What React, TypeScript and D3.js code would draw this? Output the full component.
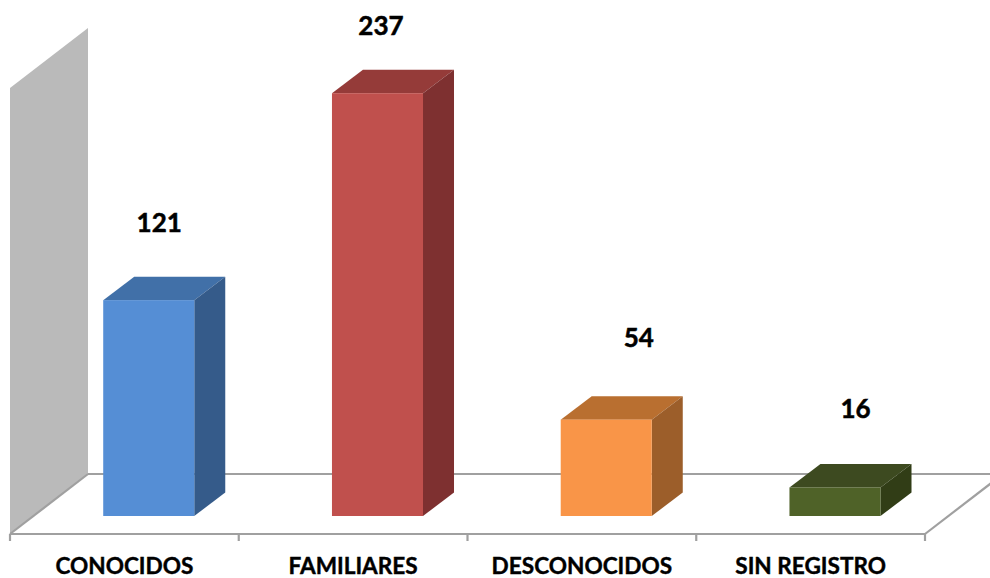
import * as d3 from "d3";

const categories = ["CONOCIDOS", "FAMILIARES", "DESCONOCIDOS", "SIN REGISTRO"];
const values = [121, 237, 54, 16];
const axisMax = 250;

const frontColors = ["#558ed5", "#c0504d", "#f99548", "#4f6228"];
const topColors = ["#4170a8", "#953b39", "#b96f30", "#3d4a20"];
const sideColors = ["#355b8a", "#7e3030", "#9c5e2a", "#313d16"];

// value labels were placed by hand in the original, so each has its own nudge
const labelDx = [56, 49, 78, 66];
const labelDy = [-68, -58, -73, -69];

const width = 990;
const height = 578;
const plotLeft = 10;
const plotRight = 925;
const plotBottom = 534;
const plotTop = 88;
const wallDepth = { x: 78, y: -60 };
const barDepth = { x: 31, y: -23.5 };
const barLift = 18;
const wallColor = "#bababa";
const lineColor = "#a0a0a0";
const font = "Lato, Carlito, sans-serif";

const xScale = d3.scaleBand().domain(categories).range([plotLeft, plotRight]);
const yScale = d3.scaleLinear().domain([0, axisMax]).range([plotBottom, plotTop]);

const barWidth = xScale.step() * 0.398;
const barOffset = xScale.step() * 0.4075;

function poly(points: [number, number][]) {
  return d3.line()(points) + "Z";
}

export default function App() {
  const tickXs = [...categories.map((c) => xScale(c)!), plotRight];

  return (
    <svg
      width={width}
      height={height}
      viewBox={`0 0 ${width} ${height}`}
      style={{ position: "absolute", left: 0, top: 0, background: "#fff" }}
    >
      <path
        d={poly([
          [plotLeft, yScale(0)],
          [plotLeft, yScale(axisMax)],
          [plotLeft + wallDepth.x, yScale(axisMax) + wallDepth.y],
          [plotLeft + wallDepth.x, yScale(0) + wallDepth.y],
        ])}
        fill={wallColor}
      />
      <g fill="none" stroke={lineColor} strokeWidth={2.2}>
        <line
          x1={plotLeft + wallDepth.x}
          x2={width}
          y1={yScale(0) + wallDepth.y}
          y2={yScale(0) + wallDepth.y}
        />
        <line
          x1={plotLeft}
          y1={yScale(0)}
          x2={plotLeft + wallDepth.x}
          y2={yScale(0) + wallDepth.y}
        />
        <line
          x1={plotRight}
          y1={yScale(0)}
          x2={plotRight + wallDepth.x}
          y2={yScale(0) + wallDepth.y}
        />
        <line x1={plotLeft} x2={plotRight} y1={yScale(0)} y2={yScale(0)} />
        {tickXs.map((x) => (
          <line key={x} x1={x} x2={x} y1={yScale(0)} y2={yScale(0) + 7} />
        ))}
      </g>
      {categories.map((c, i) => {
        const x0 = xScale(c)! + barOffset;
        const x1 = x0 + barWidth;
        const yBase = yScale(0) - barLift;
        const yTop = yScale(values[i]) - barLift;
        const dx = barDepth.x;
        const dy = barDepth.y;
        return (
          <g key={c}>
            <path
              d={poly([
                [x0, yTop],
                [x1, yTop],
                [x1 + dx, yTop + dy],
                [x0 + dx, yTop + dy],
              ])}
              fill={topColors[i]}
            />
            <path
              d={poly([
                [x1, yTop],
                [x1 + dx, yTop + dy],
                [x1 + dx, yBase + dy],
                [x1, yBase],
              ])}
              fill={sideColors[i]}
            />
            <rect x={x0} y={yTop} width={barWidth} height={yBase - yTop} fill={frontColors[i]} />
            <text
              x={x0 + labelDx[i]}
              y={yTop + labelDy[i]}
              textAnchor="middle"
              fontFamily={font}
              fontWeight={700}
              fontSize={26}
              stroke="#000"
              strokeWidth={0.5}
              fill="#000"
            >
              {values[i]}
            </text>
            <text
              x={xScale(c)! + xScale.bandwidth() / 2}
              y={574}
              textAnchor="middle"
              fontFamily={font}
              fontWeight={700}
              fontSize={22.6}
              stroke="#000"
              strokeWidth={0.4}
              fill="#000"
            >
              {c}
            </text>
          </g>
        );
      })}
    </svg>
  );
}
